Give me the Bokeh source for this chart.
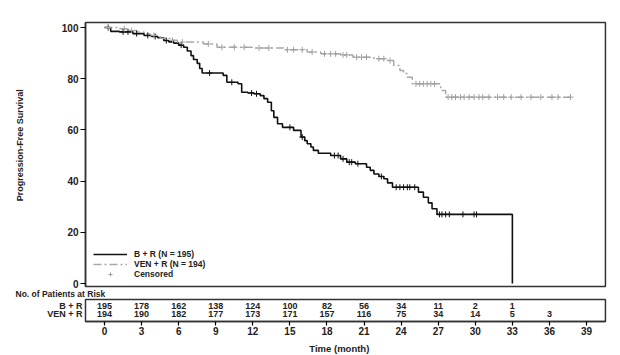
import numpy as np
from bokeh.plotting import figure
from bokeh.models import Range1d, FixedTicker, Label, Legend, LegendItem
from bokeh.embed import file_html
from bokeh.resources import INLINE
from bokeh.core.properties import value

FONT = "Liberation Sans"

# Kaplan-Meier step data (time in months, survival %)
br_t = [0, 0.5, 1.2, 2.3, 3.2, 3.8, 4.3, 4.8, 5.2, 5.6, 6.0, 6.4, 6.7, 7.0, 7.2, 7.5, 7.7, 7.9,
        9.6, 9.9, 10.8, 11.1, 11.6, 12.1, 12.6, 12.9, 13.2, 13.5, 13.7, 14.0, 14.4, 15.3, 15.9,
        16.2, 16.4, 16.7, 16.9, 17.3, 18.3, 19.1, 19.6, 20.3, 21.2, 21.5, 21.8, 22.2, 22.6, 22.9,
        23.3, 25.4, 25.8, 26.2, 26.5, 26.9, 33.0]
br_s = [100, 98.5, 98.3, 97.6, 96.9, 96.5, 96.0, 94.9, 94.4, 93.9, 93.1, 92.3, 90.8, 89.0, 87.5,
        86.0, 84.0, 82.2, 81.3, 78.6, 78.0, 74.7, 74.4, 74.1, 73.4, 72.2, 70.8, 67.5, 64.9, 62.4,
        61.0, 59.8, 57.2, 55.8, 54.6, 53.3, 52.0, 50.9, 50.0, 48.7, 47.4, 46.8, 45.4, 44.2, 42.8,
        41.8, 40.9, 39.3, 37.6, 35.7, 33.7, 31.5, 29.2, 27.0, 0]
ven_t = [0, 1.0, 2.0, 2.6, 3.2, 3.7, 4.5, 5.3, 5.9, 8.0, 9.1, 12.0, 14.5, 16.4, 17.5, 19.1, 20.1,
         21.8, 22.9, 23.4, 23.9, 24.2, 24.5, 24.9, 27.2, 27.6, 37.7]
ven_s = [100, 99.5, 98.8, 98.2, 97.5, 96.9, 95.8, 95.0, 94.3, 93.6, 92.3, 92.0, 91.3, 90.4, 89.7,
         89.3, 88.4, 87.8, 87.1, 85.2, 83.2, 82.0, 80.6, 78.0, 75.4, 72.8, 72.8]

br_cens = [0.3, 1.5, 1.9, 2.6, 3.5, 4.1, 5.0, 6.2, 8.5, 10.3, 11.9, 12.3, 15.0, 16.0, 18.6, 18.9,
           19.3, 19.8, 20.0, 20.5, 22.4, 23.6, 23.9, 24.2, 24.5, 24.7, 25.1, 27.1, 27.3, 27.6,
           27.9, 29.0, 29.9, 30.1]
ven_cens = [0.3, 1.6, 2.2, 4.0, 5.5, 6.3, 8.4, 9.5, 10.5, 11.3, 12.5, 13.3, 14.8, 15.3, 16.0,
            16.8, 17.8, 18.3, 18.7, 19.3, 19.6, 20.4, 20.8, 21.2, 22.2, 22.6, 23.1, 25.2, 25.5,
            25.8, 26.1, 26.4, 26.7, 27.8, 28.1, 28.4, 28.8, 29.1, 29.5, 29.9, 30.3, 30.6, 31.1,
            31.8, 32.3, 32.9, 33.7, 34.5, 35.3, 36.2, 36.7, 37.7]

risk_t_br = [0, 3, 6, 9, 12, 15, 18, 21, 24, 27, 30, 33]
risk_br = ["195", "178", "162", "138", "124", "100", "82", "56", "34", "11", "2", "1"]
risk_t_ven = [0, 3, 6, 9, 12, 15, 18, 21, 24, 27, 30, 33, 36]
risk_ven = ["194", "190", "182", "177", "173", "171", "157", "116", "75", "34", "14", "5", "3"]

x_ticks = list(range(0, 40, 3))
y_ticks = [0, 20, 40, 60, 80, 100]

labels = ["B + R (N = 195)", "VEN + R (N = 194)", "Censored"]
risk_rows = ["B + R", "VEN + R"]

# geometry in data units
X0, X1 = -1.537, 40.53        # plot box left/right
Y0, Y1 = -1.17, 101.95        # main box bottom/top
RB0, RB1 = -14.84, -6.25      # risk box bottom/top


def km_at(ts, ss, c):
    idx = np.searchsorted(np.array(ts), np.array(c), side="right") - 1
    return np.array(ss)[idx]


p = figure(width=620, height=355, output_backend="svg", toolbar_location=None,
           x_range=Range1d(-8.414, 41.748), y_range=Range1d(-28.125, 110.547),
           min_border=0)
p.outline_line_color = None
p.grid.visible = False
p.background_fill_color = "white"
p.border_fill_color = "white"

# boxes
p.quad(left=[X0], right=[X1], bottom=[Y0], top=[Y1],
       fill_color=None, line_color="#333333", line_width=1.5)
p.quad(left=[X0], right=[X1], bottom=[RB0], top=[RB1],
       fill_color=None, line_color="#333333", line_width=1.5)

# curves
r_br = p.step(br_t, br_s, mode="after", line_color="#111111", line_width=1.6)
r_ven = p.step(ven_t, ven_s, mode="after", line_color="#a8a8a8", line_width=1.5,
               line_dash="8 3 2 3")
p.scatter(br_cens, km_at(br_t, br_s, br_cens), marker="cross", size=6,
          line_color="#111111", line_width=1)
r_cen = p.scatter(ven_cens, km_at(ven_t, ven_s, ven_cens), marker="cross", size=6,
                  line_color="#a0a0a0", line_width=1)

# risk table numbers
tstyle = dict(text_align="center", text_baseline="middle", text_font=value(FONT),
              text_font_style="bold", text_font_size="9px", text_color="#222222")
p.text(risk_t_br, [-8.6] * len(risk_t_br), text=risk_br, **tstyle)
p.text(risk_t_ven, [-12.1] * len(risk_t_ven), text=risk_ven, **tstyle)

# axes at fixed positions
xa = p.xaxis[0]
xa.fixed_location = RB0
xa.ticker = FixedTicker(ticks=x_ticks)
xa.bounds = (X0, X1)
xa.axis_line_color = "#333333"
xa.axis_line_width = 1.5
xa.major_tick_in = 0
xa.major_tick_out = 4
xa.major_tick_line_width = 1.2
xa.minor_tick_line_color = None
xa.major_label_standoff = 2
xa.major_label_text_font = FONT
xa.major_label_text_font_style = "bold"
xa.major_label_text_font_size = "10px"
xa.major_label_text_color = "#222222"

ya = p.yaxis[0]
ya.fixed_location = X0
ya.ticker = FixedTicker(ticks=y_ticks)
ya.bounds = (Y0, Y1)
ya.axis_line_color = "#333333"
ya.axis_line_width = 1.5
ya.major_tick_in = 0
ya.major_tick_out = 5
ya.major_tick_line_width = 1.2
ya.minor_tick_line_color = None
ya.major_label_standoff = 2
ya.major_label_text_font = FONT
ya.major_label_text_font_style = "bold"
ya.major_label_text_font_size = "10px"
ya.major_label_text_color = "#222222"


def lab(x, y, text, size, align="left", angle=0.0):
    p.add_layout(Label(x=x, y=y, text=text, text_font=FONT, text_font_style="bold",
                       text_font_size=size, text_align=align, text_baseline="middle",
                       angle=angle, text_color="#222222"))


lab(-6.8, 54, "Progression-Free Survival", "9px", "center", np.pi / 2)
lab(19.0, -25.4, "Time (month)", "9.5px", "center")
lab(-7.2, -4.0, "No. of Patients at Risk", "8.5px", "left")
lab(-1.78, -8.6, risk_rows[0], "9px", "right")
lab(-1.78, -12.1, risk_rows[1], "9px", "right")

legend = Legend(items=[LegendItem(label=labels[0], renderers=[r_br]),
                       LegendItem(label=labels[1], renderers=[r_ven]),
                       LegendItem(label=labels[2], renderers=[r_cen])],
                location=(93, 76), padding=0, margin=0, spacing=0,
                glyph_width=34, glyph_height=10, label_height=10, label_standoff=7,
                label_text_font=FONT, label_text_font_size="8.5px",
                label_text_font_style="bold", label_text_color="#222222",
                border_line_color=None, background_fill_alpha=0)
p.add_layout(legend)

open("out.html", "w").write(file_html(p, INLINE))
